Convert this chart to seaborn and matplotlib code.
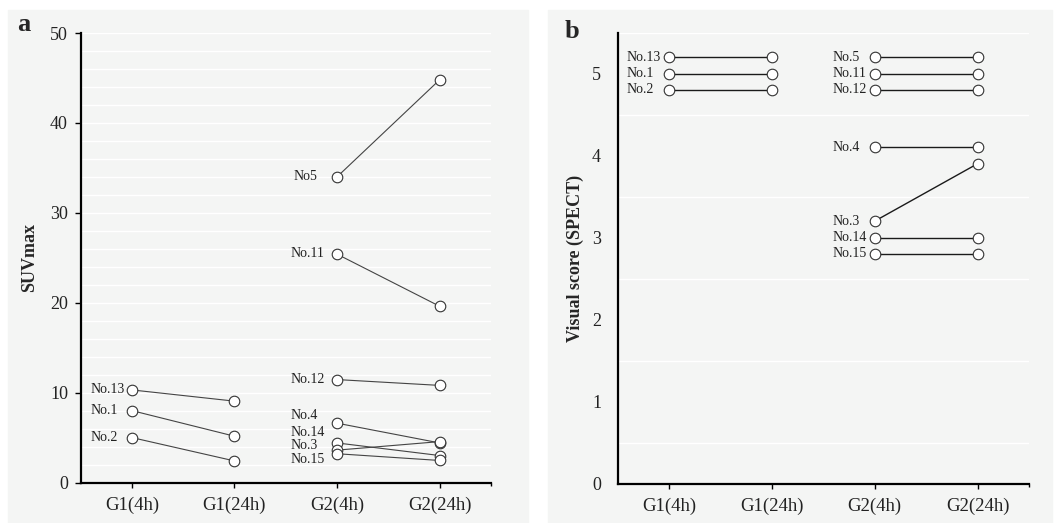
import matplotlib
matplotlib.use("Agg")
import matplotlib.pyplot as plt
import seaborn as sns
import pandas as pd
import numpy as np
from matplotlib.patches import Rectangle

# ---------------- data ----------------
times = ["G1(4h)", "G1(24h)", "G2(4h)", "G2(24h)"]

# Panel a : SUVmax
a_g1_names = ["No.13", "No.1", "No.2"]
a_g1_4h = [10.3, 8.0, 5.0]
a_g1_24h = [9.05, 5.15, 2.4]
a_g2_names = ["No5", "No.11", "No.12", "No.4", "No.14", "No.3", "No.15"]
a_g2_4h = [34.0, 25.4, 11.45, 6.6, 4.4, 3.6, 3.2]
a_g2_24h = [44.8, 19.6, 10.8, 4.4, 3.0, 4.55, 2.45]
# label heights (to avoid overlaps)
a_g1_label_y = [10.3, 8.0, 5.0]
a_g2_label_y = [34.0, 25.5, 11.45, 7.4, 5.55, 4.15, 2.55]

# Panel b : Visual score (SPECT)
b_g1_names = ["No.13", "No.1", "No.2"]
b_g1_4h = [5.2, 5.0, 4.8]
b_g1_24h = [5.2, 5.0, 4.8]
b_g2_names = ["No.5", "No.11", "No.12", "No.4", "No.3", "No.14", "No.15"]
b_g2_4h = [5.2, 5.0, 4.8, 4.1, 3.2, 3.0, 2.8]
b_g2_24h = [5.2, 5.0, 4.8, 4.1, 3.9, 3.0, 2.8]


def build(g1n, g1a, g1b, g2n, g2a, g2b):
    rows = []
    for n, v4, v24 in zip(g1n, g1a, g1b):
        rows.append(dict(pid="G1" + n, x=0, v=v4))
        rows.append(dict(pid="G1" + n, x=1, v=v24))
    for n, v4, v24 in zip(g2n, g2a, g2b):
        rows.append(dict(pid="G2" + n, x=2, v=v4))
        rows.append(dict(pid="G2" + n, x=3, v=v24))
    return pd.DataFrame(rows)


df_a = build(a_g1_names, a_g1_4h, a_g1_24h, a_g2_names, a_g2_4h, a_g2_24h)
df_b = build(b_g1_names, b_g1_4h, b_g1_24h, b_g2_names, b_g2_4h, b_g2_24h)

# ---------------- style ----------------
sns.set_theme(style="white")
plt.rcParams["font.family"] = ["Liberation Serif", "DejaVu Serif"]
BG = "#f4f5f4"
W, H = 1059, 523

fig = plt.figure(figsize=(W / 100, H / 100), dpi=100, facecolor="white")
fig.patches.append(Rectangle((8 / W, 0), (528 - 8) / W, 1 - 10 / H,
                             transform=fig.transFigure, color=BG, zorder=-10))
fig.patches.append(Rectangle((548 / W, 0), (1052 - 548) / W, 1 - 10 / H,
                             transform=fig.transFigure, color=BG, zorder=-10))

ax_a = fig.add_axes([80.5 / W, 1 - 482.5 / H, 410.5 / W, 449.5 / H])
ax_b = fig.add_axes([617.7 / W, 1 - 483.5 / H, 411.3 / W, 451 / H])


def draw(ax, df, lw, lc):
    ax.set_facecolor(BG)
    sns.lineplot(data=df, x="x", y="v", units="pid", estimator=None, sort=False,
                 color=lc, lw=lw, ax=ax, legend=False, zorder=2)
    sns.scatterplot(data=df, x="x", y="v", marker="o", s=58, facecolor="white",
                    edgecolor="#333333", linewidth=0.8, ax=ax, zorder=3, legend=False)
    ax.set_xlim(-0.5, 3.5)
    ax.set_xticks(range(4))
    ax.set_xticklabels(times)
    ax.set_xticks([3.5], minor=True)
    ax.set_xlabel("")
    for s in ["top", "right"]:
        ax.spines[s].set_visible(False)
    for s in ["left", "bottom"]:
        ax.spines[s].set_color("black")
        ax.spines[s].set_linewidth(1.6)
    ax.yaxis.remove_overlapping_locs = False
    ax.grid(which="minor", axis="y", color="white", lw=1.0)
    ax.grid(which="major", visible=False)
    ax.set_axisbelow(True)
    ax.tick_params(axis="x", which="major", direction="out", length=3.5, width=1,
                   color="black", pad=7, labelsize=13.5, labelcolor="#222222", bottom=True)
    ax.tick_params(axis="x", which="minor", direction="out", length=2.5, width=1,
                   color="black", bottom=True)
    ax.tick_params(axis="y", which="minor", length=0)


# Panel a
draw(ax_a, df_a, 0.8, "#444444")
ax_a.set_ylim(0, 50)
ax_a.set_yticks(np.arange(0, 51, 10))
ax_a.set_yticks(np.arange(0, 51, 2), minor=True)
ax_a.tick_params(axis="y", which="major", direction="out", length=4, width=1,
                 color="black", pad=5, labelsize=13, labelcolor="#222222", left=True)
ax_a.set_ylabel("SUVmax", fontsize=13, fontweight="bold", va="center")
ax_a.yaxis.set_label_coords(-0.123, 0.5)
for n, y in zip(a_g1_names, a_g1_label_y):
    ax_a.text(0 - 0.40, y, n, ha="left", va="center", fontsize=10, color="#222222")
for n, y in zip(a_g2_names, a_g2_label_y):
    ax_a.text(2 - 0.45 + (0.03 if n == "No5" else 0), y, n, ha="left", va="center",
              fontsize=10, color="#222222")

# Panel b
draw(ax_b, df_b, 1.0, "#1a1a1a")
ax_b.set_ylim(0, 5.5)
ax_b.set_yticks(np.arange(0, 6, 1))
ax_b.set_yticks(np.arange(0.5, 5.6, 1), minor=True)
ax_b.tick_params(axis="y", which="major", length=0, pad=12, labelsize=13,
                 labelcolor="#222222")
ax_b.set_ylabel("Visual score (SPECT)", fontsize=13, fontweight="bold", va="center")
ax_b.yaxis.set_label_coords(-0.104, 0.5)
for n, y in zip(b_g1_names, b_g1_4h):
    ax_b.text(0 - 0.41, y, n, ha="left", va="center", fontsize=10, color="#222222")
for n, y in zip(b_g2_names, b_g2_4h):
    ax_b.text(2 - 0.415, y, n, ha="left", va="center", fontsize=10, color="#222222")

fig.text(17 / W, 1 - 31 / H, "a", fontsize=19, fontweight="bold", ha="left", va="baseline")
fig.text(565 / W, 1 - 38 / H, "b", fontsize=19, fontweight="bold", ha="left", va="baseline")

fig.savefig("out.png", dpi=100, facecolor="white")
